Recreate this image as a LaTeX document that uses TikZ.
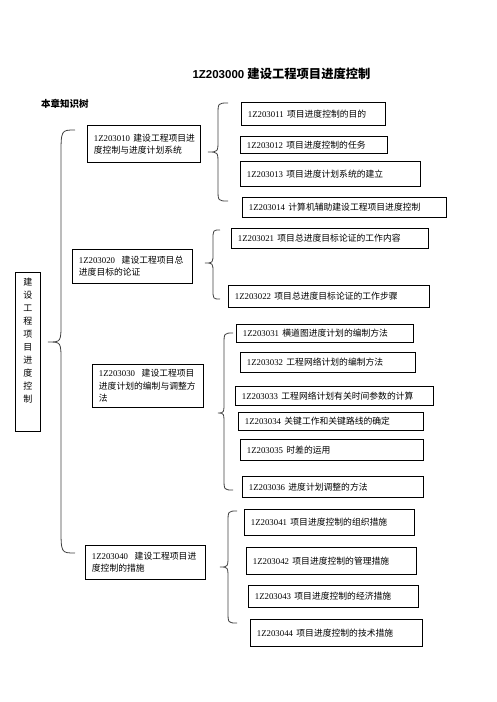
\documentclass[tikz,border=0pt]{standalone}
\usepackage{fontspec}
\setmainfont{Liberation Serif}
\newfontfamily\cjk{Noto Sans CJK SC}
\newfontfamily\titlesans{Liberation Sans}
\newcommand\zhtxt[1]{{\cjk #1}}
\newcommand\boxfontR{\fontsize{8.8}{13}\selectfont}
\newcommand\boxfontL{\fontsize{8.8}{13}\selectfont}
\newcommand\tbox[7]{%
  \pgfmathsetmacro\tboxtw{#4-12}%
  \node[box, minimum width=#4pt, minimum height=#5pt, text width=\tboxtw pt] (#1) at (#2,#3) {#7#6};}
\newcommand\mybrace[8]{%
  \draw[brace] (#1,#4) .. controls (#2,#4) .. (#2,{#4+#7}) -- (#2,{#5-#8})
    .. controls (#2,#5) .. (#3,#5) .. controls (#2,#5) .. (#2,{#5+#8})
    -- (#2,{#6-#7}) .. controls (#2,#6) .. (#1,#6);}
\begin{document}
\begin{tikzpicture}[x=1pt,y=-1pt,
  box/.style={draw, line width=0.8pt, anchor=north west, inner xsep=6.5pt, inner ysep=0pt, align=left},
  brace/.style={draw, line width=0.8pt, black!75}]
\useasboundingbox (0,0) rectangle (496,702);
% title
\node[inner sep=0] (title) at (281.5,74) {\bfseries\titlesans\fontsize{11.5}{14}\selectfont 1Z203000 \cjk\fontsize{12.3}{15}\selectfont 建设工程项目进度控制};
\node[inner sep=0, anchor=west] (sub) at (41,104) {\bfseries\cjk\fontsize{9.5}{12}\selectfont 本章知识树};
% left root box
\node[draw, line width=0.8pt, anchor=north west, minimum width=25pt, minimum height=159pt, inner sep=0] (lbox) at (15,272) {};
\node[anchor=north, align=center, inner sep=0, font=\cjk\fontsize{9}{13}\selectfont] (ltext) at ([yshift=-6pt]lbox.north) {建\\设\\工\\程\\项\\目\\进\\度\\控\\制};
% main brace
\mybrace{75}{61}{48}{130}{342}{553}{26}{19}
% group 1
\tbox{b010}{87}{125}{112}{37}{1Z203010~\zhtxt{建设工程项目进}\\\zhtxt{度控制与进度计划系统}}{\boxfontL}
\mybrace{228}{218}{208}{103}{152}{201}{12}{12}
\tbox{b011}{241}{102}{143}{23}{1Z203011~\zhtxt{项目进度控制的目的}}{\boxfontR}
\tbox{b012}{240}{136}{146}{17}{1Z203012~\zhtxt{项目进度控制的任务}}{\boxfontR}
\tbox{b013}{240}{161}{179}{25}{1Z203013~\zhtxt{项目进度计划系统的建立}}{\boxfontR}
\tbox{b014}{242}{197}{203}{20}{1Z203014~\zhtxt{计算机辅助建设工程项目进度控制}}{\boxfontR}
% group 2
\tbox{b020}{72}{249}{119}{34}{1Z203020~~\zhtxt{建设工程项目总}\\\zhtxt{进度目标的论证}}{\boxfontL}
\mybrace{220}{213}{205}{230}{263}{299}{10}{10}
\tbox{b021}{231}{228}{196}{20}{1Z203021~\zhtxt{项目总进度目标论证的工作内容}}{\boxfontR}
\tbox{b022}{228}{285}{200}{22}{1Z203022~\zhtxt{项目总进度目标论证的工作步骤}}{\boxfontR}
% group 3
\tbox{b030}{92}{364}{110}{43}{1Z203030~~\zhtxt{建设工程项目}\\\zhtxt{进度计划的编制与调整方}\\\zhtxt{法}}{\boxfontL}
\mybrace{233}{224}{218}{333}{413}{490}{12}{12}
\tbox{b031}{236}{324}{176}{18}{1Z203031~\zhtxt{横道图进度计划的编制方法}}{\boxfontR}
\tbox{b032}{240}{352}{174}{20}{1Z203032~\zhtxt{工程网络计划的编制方法}}{\boxfontR}
\tbox{b033}{235}{386}{197}{19}{1Z203033~\zhtxt{工程网络计划有关时间参数的计算}}{\boxfontR}
\tbox{b034}{238}{412}{184}{18}{1Z203034~\zhtxt{关键工作和关键路线的确定}}{\boxfontR}
\tbox{b035}{240}{439}{182}{21}{1Z203035~\zhtxt{时差的运用}}{\boxfontR}
\tbox{b036}{242}{476}{180}{21}{1Z203036~\zhtxt{进度计划调整的方法}}{\boxfontR}
% group 4
\tbox{b040}{85}{545}{119}{34}{1Z203040~~\zhtxt{建设工程项目进}\\\zhtxt{度控制的措施}}{\boxfontL}
\mybrace{237}{228}{220}{511}{567}{623}{12}{12}
\tbox{b041}{244}{509}{169}{26}{1Z203041~\zhtxt{项目进度控制的组织措施}}{\boxfontR}
\tbox{b042}{246}{547}{169}{27}{1Z203042~\zhtxt{项目进度控制的管理措施}}{\boxfontR}
\tbox{b043}{248}{585}{169}{22}{1Z203043~\zhtxt{项目进度控制的经济措施}}{\boxfontR}
\tbox{b044}{250}{619}{171}{27}{1Z203044~\zhtxt{项目进度控制的技术措施}}{\boxfontR}
\end{tikzpicture}
\end{document}
